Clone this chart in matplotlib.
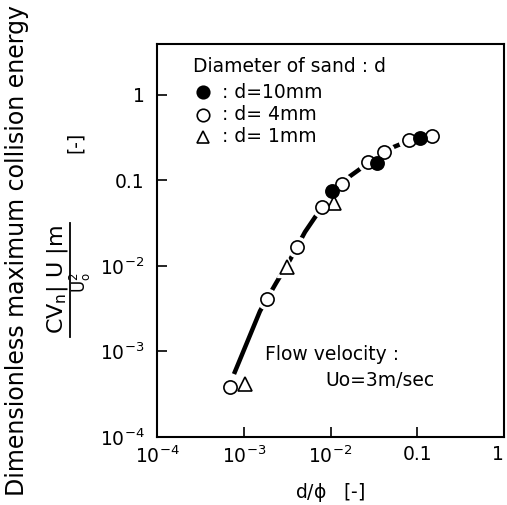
import numpy as np
import matplotlib
matplotlib.use("Agg")
from matplotlib import pyplot as plt
from matplotlib.lines import Line2D

plt.rcParams['font.family'] = ['DejaVu Sans']
plt.rcParams['mathtext.default'] = 'regular'

# data
d10_x = [0.0103, 0.0341, 0.108]
d10_y = [0.0753, 0.157, 0.308]
d4_x = [6.95e-4, 1.83e-3, 4.11e-3, 7.93e-3, 0.01345, 0.0270, 0.0414, 0.0809, 0.146]
d4_y = [3.79e-4, 4.09e-3, 0.0166, 0.048, 0.0903, 0.161, 0.216, 0.295, 0.328]
d1_x = [1.03e-3, 3.13e-3, 0.01084]
d1_y = [4.16e-4, 9.68e-3, 0.0548]

curve_x = [7.72e-4, 1.54e-3, 2.36e-3, 3.41e-3, 5.08e-3, 7.98e-3, 0.01358, 0.0219, 0.0414, 0.0762, 0.1227]
curve_y = [5.44e-4, 2.96e-3, 6.29e-3, 0.0117, 0.0248, 0.0486, 0.0953, 0.135, 0.219, 0.283, 0.320]

tick_vals = [1e-4, 1e-3, 1e-2, 0.1, 1]
tick_labels = ['$10^{-4}$', '$10^{-3}$', '$10^{-2}$', '0.1', '1']


def main():
    fig = plt.figure(figsize=(5.07, 5.05), dpi=100)
    ax = fig.add_axes([157/507, 1-437/505, 347/507, 393/505])
    ax.set_xscale('log')
    ax.set_yscale('log')

    ax.plot(curve_x, curve_y, color='black', lw=3.2, zorder=2, solid_capstyle='butt')

    # white halos so the curve breaks around the symbols
    for xs, ys, m in [(d4_x, d4_y, 'o'), (d10_x, d10_y, 'o'), (d1_x, d1_y, '^')]:
        ax.plot(xs, ys, ls='none', marker=m, ms=14.5, mfc='white', mec='white', zorder=3)

    ax.plot(d1_x, d1_y, ls='none', marker='^', ms=9.5, mfc='white', mec='black', mew=1.2, zorder=4)
    ax.plot(d4_x, d4_y, ls='none', marker='o', ms=9.5, mfc='white', mec='black', mew=1.2, zorder=5)
    ax.plot(d10_x, d10_y, ls='none', marker='o', ms=9.5, mfc='black', mec='black', mew=1.2, zorder=6)

    ax.set_xlim(1e-4, 1)
    ax.set_ylim(1e-4, 10**0.59)
    ax.set_xticks(tick_vals)
    ax.set_xticklabels(tick_labels)
    ax.set_yticks(tick_vals)
    ax.set_yticklabels(tick_labels)
    ax.minorticks_off()
    ax.tick_params(direction='in', length=7, width=1.2, labelsize=13.5)
    ax.tick_params(axis='x', pad=6)
    ax.tick_params(axis='y', pad=9)
    for sp in ax.spines.values():
        sp.set_linewidth(1.5)
    # last x label sits at the figure edge
    ax.get_xticklabels()[-1].set_horizontalalignment('right')

    ax.set_xlabel(r'd/$\phi$   [-]', fontsize=13.5, labelpad=10)

    # legend drawn by hand, like in the figure
    def ax_pt(px, py):
        return (px - 157) / 347, (437 - py) / 393

    ax.text(*ax_pt(193, 67), 'Diameter of sand : d', transform=ax.transAxes,
            fontsize=13.5, va='center', ha='left')
    leg = [('o', 'black', ': d=10mm', 92), ('o', 'white', ': d= 4mm', 115), ('^', 'white', ': d= 1mm', 137)]
    for m, fc, lab, py in leg:
        ax.plot(*ax_pt(203, py), marker=m, ms=9, mfc=fc, mec='black', mew=1.2,
                transform=ax.transAxes, clip_on=False)
        ax.text(*ax_pt(222, py), lab, transform=ax.transAxes, fontsize=13.5, va='center', ha='left')

    ax.text(*ax_pt(265, 355), 'Flow velocity :', transform=ax.transAxes, fontsize=13.5, va='center')
    ax.text(*ax_pt(325, 380), 'Uo=3m/sec', transform=ax.transAxes, fontsize=13.5, va='center')

    # y label: text, fraction, unit
    fig.text(17/507, 1-251/505, 'Dimensionless maximum collision energy', rotation=90,
             fontsize=17, ha='center', va='center')
    fig.text(57/507, 1-280/505, r'$CV_n|\ U\ |m$', rotation=90, fontsize=16,
             ha='center', va='center')
    fig.add_artist(Line2D([70/507, 70/507], [1-223/505, 1-337/505], color='black', lw=1.3))
    fig.text(80/507, 1-283/505, r'$U_o^2$', rotation=90, fontsize=12, ha='center', va='center')
    fig.text(75/507, 1-142/505, '[-]', rotation=90, fontsize=13.5, ha='center', va='center')

    fig.savefig('out.png', dpi=100)


if __name__ == '__main__':
    main()
